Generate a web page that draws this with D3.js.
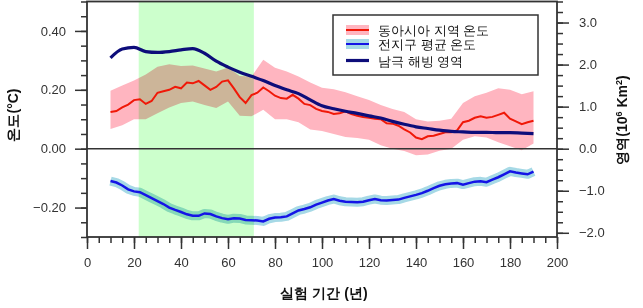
<!doctype html>
<html>
<head>
  <meta charset="utf-8">
  <style>
    body { margin: 0; background: #fff; }
    svg { display: block; font-family: "Liberation Sans", Arial, sans-serif; }
    .axis path, .axis line { stroke: #333; stroke-width: 1.5; }
    .axis text { fill: #333; font-size: 13px; }
    .band { mix-blend-mode: multiply; }
  </style>
  <script src="https://cdn.jsdelivr.net/npm/d3@7"></script>
</head>
<body>
<script>
// years for the wiggly temperature lines (every 2.5 yr)
var yearsFine = [10, 12.5, 15, 17.5, 20, 22.5, 25, 27.5, 30, 32.5, 35, 37.5, 40, 42.5, 45, 47.5,
  50, 52.5, 55, 57.5, 60, 62.5, 65, 67.5, 70, 72.5, 75, 77.5, 80, 82.5, 85, 87.5,
  90, 92.5, 95, 97.5, 100, 102.5, 105, 107.5, 110, 112.5, 115, 117.5, 120, 122.5, 125, 127.5,
  130, 132.5, 135, 137.5, 140, 142.5, 145, 147.5, 150, 152.5, 155, 157.5, 160, 162.5, 165, 167.5,
  170, 172.5, 175, 177.5, 180, 182.5, 185, 187.5, 190];

// East Asia temperature (°C)
var eastAsia = [0.125, 0.128, 0.140, 0.150, 0.165, 0.168, 0.152, 0.162, 0.190, 0.195, 0.200, 0.210,
  0.205, 0.225, 0.222, 0.230, 0.215, 0.200, 0.210, 0.228, 0.232, 0.205, 0.175, 0.155,
  0.182, 0.190, 0.208, 0.195, 0.180, 0.172, 0.170, 0.183, 0.170, 0.152, 0.148, 0.135,
  0.128, 0.125, 0.118, 0.120, 0.127, 0.118, 0.112, 0.108, 0.105, 0.102, 0.100, 0.086,
  0.085, 0.078, 0.066, 0.055, 0.038, 0.032, 0.042, 0.044, 0.050, 0.056, 0.056, 0.062,
  0.090, 0.095, 0.105, 0.110, 0.105, 0.108, 0.115, 0.122, 0.102, 0.093, 0.083, 0.090, 0.095];

// global mean temperature (°C)
var globalMean = [-0.110, -0.115, -0.125, -0.138, -0.145, -0.148, -0.158, -0.168, -0.178, -0.188,
  -0.200, -0.208, -0.215, -0.223, -0.228, -0.228, -0.220, -0.222, -0.230, -0.236, -0.240,
  -0.236, -0.237, -0.242, -0.243, -0.244, -0.247, -0.238, -0.234, -0.233, -0.230, -0.220,
  -0.210, -0.205, -0.199, -0.190, -0.183, -0.176, -0.171, -0.177, -0.180, -0.181, -0.182,
  -0.180, -0.175, -0.171, -0.175, -0.176, -0.174, -0.173, -0.167, -0.162, -0.157, -0.151,
  -0.143, -0.134, -0.126, -0.121, -0.118, -0.117, -0.122, -0.117, -0.112, -0.111, -0.114,
  -0.105, -0.097, -0.087, -0.077, -0.081, -0.084, -0.087, -0.078];

// years for the band edges and sea ice (every 5 yr)
var yearsCoarse = [10, 15, 20, 25, 30, 35, 40, 45, 50, 55, 60, 65, 70, 75, 80, 85, 90, 95, 100,
  105, 110, 115, 120, 125, 130, 135, 140, 145, 150, 155, 160, 165, 170, 175, 180, 185, 190];

var eastAsiaHi = [0.197, 0.215, 0.232, 0.252, 0.278, 0.287, 0.281, 0.283, 0.272, 0.262, 0.276,
  0.247, 0.245, 0.302, 0.275, 0.262, 0.245, 0.225, 0.207, 0.202, 0.192, 0.178, 0.165, 0.148,
  0.135, 0.125, 0.100, 0.092, 0.095, 0.102, 0.155, 0.178, 0.190, 0.205, 0.200, 0.185, 0.195];
var eastAsiaLo = [0.067, 0.080, 0.100, 0.100, 0.120, 0.140, 0.155, 0.160, 0.148, 0.138, 0.160,
  0.112, 0.110, 0.132, 0.100, 0.100, 0.090, 0.065, 0.060, 0.050, 0.040, 0.036, 0.030, 0.012,
  0.000, -0.008, -0.022, -0.020, -0.007, 0.000, 0.030, 0.042, 0.038, 0.022, 0.008, -0.005, 0.018];

// Antarctic sea ice area (10^6 km^2)
var seaIce = [2.16, 2.37, 2.41, 2.31, 2.29, 2.31, 2.35, 2.38, 2.27, 2.08, 1.94, 1.82, 1.72, 1.62,
  1.50, 1.40, 1.31, 1.16, 1.02, 0.95, 0.89, 0.84, 0.78, 0.73, 0.65, 0.58, 0.52, 0.48, 0.44,
  0.41, 0.40, 0.39, 0.39, 0.38, 0.38, 0.37, 0.36];

var period = [22, 71];
var xTicks = [0, 20, 40, 60, 80, 100, 120, 140, 160, 180, 200];
var yTicks = [-0.2, 0, 0.2, 0.4];
var yRTicks = [-2, -1, 0, 1, 2, 3];
var legendLabels = ["동아시아 지역 온도", "전지구 평균 온도", "남극 해빙 영역"];

var W = 643, H = 308;
var svg = d3.select("body").append("svg").attr("width", W).attr("height", H);

var x = d3.scaleLinear().domain([0, 200]).range([87, 557]);
var y = d3.scaleLinear().domain([-0.3, 0.5]).range([237, 1.5]);
var yR = d3.scaleLinear().domain([-2.1, 3.5]).range([237, 1.5]);

// highlighted period
svg.append("rect")
  .attr("x", x(period[0])).attr("y", y(0.5))
  .attr("width", x(period[1]) - x(period[0]))
  .attr("height", y(-0.3) - y(0.5))
  .attr("fill", "#ccffcc");

// East Asia spread
var area = d3.area()
  .x(function(d, i) { return x(yearsCoarse[i]); })
  .y0(function(d, i) { return y(eastAsiaLo[i]); })
  .y1(function(d) { return y(d); });
svg.append("path").attr("class", "band")
  .attr("d", area(eastAsiaHi))
  .attr("fill", "#ffb5c0");

var lineFine = d3.line()
  .x(function(d, i) { return x(yearsFine[i]); })
  .y(function(d) { return y(d); });

// global spread drawn as a wide pale stroke
svg.append("path").attr("class", "band")
  .attr("d", lineFine(globalMean))
  .attr("fill", "none")
  .attr("stroke", "#a6d9e6")
  .attr("stroke-width", 9)
  .attr("stroke-linejoin", "round");

svg.append("path")
  .attr("d", lineFine(eastAsia))
  .attr("fill", "none").attr("stroke", "#f01808").attr("stroke-width", 2);

svg.append("path")
  .attr("d", lineFine(globalMean))
  .attr("fill", "none").attr("stroke", "#1414e6").attr("stroke-width", 2.5);

var iceLine = d3.line()
  .x(function(d, i) { return x(yearsCoarse[i]); })
  .y(function(d) { return yR(d); })
  .curve(d3.curveMonotoneX);
svg.append("path")
  .attr("d", iceLine(seaIce))
  .attr("fill", "none").attr("stroke", "#0d0d7a").attr("stroke-width", 3.2);

// zero line and frame
svg.append("line")
  .attr("x1", x(0)).attr("x2", x(200)).attr("y1", y(0)).attr("y2", y(0))
  .attr("stroke", "#333").attr("stroke-width", 1.5);
svg.append("rect")
  .attr("x", x(0)).attr("y", y(0.5))
  .attr("width", x(200) - x(0)).attr("height", y(-0.3) - y(0.5))
  .attr("fill", "none").attr("stroke", "#333").attr("stroke-width", 1.8);

// axes: majors + minors
function minor(g) { g.select(".domain").remove(); }

svg.append("g").attr("class", "axis")
  .attr("transform", "translate(" + x(0) + ",0)")
  .call(d3.axisLeft(y).tickValues(d3.range(-0.3, 0.501, 0.05)).tickSize(6).tickFormat(""))
  .call(minor);
svg.append("g").attr("class", "axis")
  .attr("transform", "translate(" + x(0) + ",0)")
  .call(d3.axisLeft(y).tickValues(yTicks).tickSize(12).tickPadding(9).tickFormat(d3.format(".2f")))
  .call(minor);

svg.append("g").attr("class", "axis")
  .attr("transform", "translate(" + x(200) + ",0)")
  .call(d3.axisRight(yR).tickValues(d3.range(-2, 3.51, 0.25)).tickSize(6).tickFormat(""))
  .call(minor);
svg.append("g").attr("class", "axis")
  .attr("transform", "translate(" + x(200) + ",0)")
  .call(d3.axisRight(yR).tickValues(yRTicks).tickSize(12).tickPadding(10).tickFormat(d3.format(".1f")))
  .call(minor);

svg.append("g").attr("class", "axis")
  .attr("transform", "translate(0," + y(-0.3) + ")")
  .call(d3.axisBottom(x).tickValues(d3.range(0, 201, 5)).tickSize(6).tickFormat(""))
  .call(minor);
svg.append("g").attr("class", "axis")
  .attr("transform", "translate(0," + y(-0.3) + ")")
  .call(d3.axisBottom(x).tickValues(xTicks).tickSize(12).tickPadding(9))
  .call(minor);

// axis titles
svg.append("text")
  .attr("transform", "translate(18,115) rotate(-90)")
  .attr("text-anchor", "middle")
  .attr("font-size", 14).attr("font-weight", "bold").attr("fill", "#111")
  .text("온도(°C)");

var rt = svg.append("text")
  .attr("transform", "translate(627,120) rotate(-90)")
  .attr("text-anchor", "middle")
  .attr("font-size", 14).attr("font-weight", "bold").attr("fill", "#111");
rt.append("tspan").text("영역(10");
rt.append("tspan").attr("font-size", 9).attr("dy", -5).text("6");
rt.append("tspan").attr("dy", 5).text(" Km");
rt.append("tspan").attr("font-size", 9).attr("dy", -5).text("2");
rt.append("tspan").attr("dy", 5).text(")");

svg.append("text")
  .attr("x", 324).attr("y", 298)
  .attr("text-anchor", "middle")
  .attr("font-size", 14).attr("font-weight", "bold").attr("fill", "#111")
  .text("실험 기간 (년)");

// legend
var lg = svg.append("g");
lg.append("rect")
  .attr("x", 333).attr("y", 15).attr("width", 205).attr("height", 60)
  .attr("fill", "#fff").attr("stroke", "#333").attr("stroke-width", 1.5);
var rows = [30, 44, 60.5];
lg.append("rect").attr("x", 346).attr("y", 25).attr("width", 23).attr("height", 10).attr("fill", "#ffb5c0");
lg.append("line").attr("x1", 346).attr("x2", 369).attr("y1", 30).attr("y2", 30).attr("stroke", "#f01808").attr("stroke-width", 2);
lg.append("rect").attr("x", 346).attr("y", 39).attr("width", 23).attr("height", 10).attr("fill", "#a6d9e6");
lg.append("line").attr("x1", 346).attr("x2", 369).attr("y1", 44).attr("y2", 44).attr("stroke", "#1414e6").attr("stroke-width", 2);
lg.append("line").attr("x1", 346).attr("x2", 369).attr("y1", 60.5).attr("y2", 60.5).attr("stroke", "#0d0d7a").attr("stroke-width", 3.2);
lg.selectAll("text.lab").data(legendLabels).enter().append("text")
  .attr("class", "lab")
  .attr("x", 378).attr("y", function(d, i) { return rows[i] + 5; })
  .attr("font-size", 13).attr("fill", "#111")
  .text(function(d) { return d; });
</script>
</body>
</html>
